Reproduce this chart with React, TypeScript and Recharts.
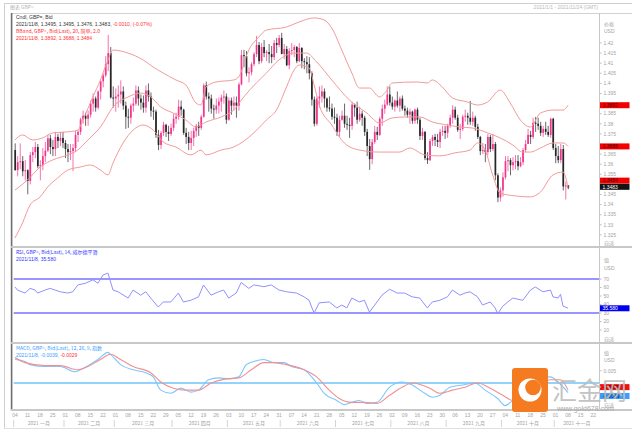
import React from "react";
import { ComposedChart, Bar, Line, XAxis, YAxis, ReferenceLine } from "recharts";

// one slot per weekday, 2021/1/4 .. 2021/11/24
const SLOTS = 233;
const PLOT_LEFT = 13.7;
const AXIS_W = 32.5;
const FONT = "'Liberation Sans', Arial, sans-serif";
const CJK = "'Noto Sans CJK SC', 'Liberation Sans', sans-serif";
const GRAY = "#a3a3a3";
const UP = "#f2358d";
const DOWN = "#262626";
const BAND = "#f29a9a";

// daily candles GBP=, 2021/1/4 .. 2021/11/8, one line per week
const opens = [
  1.3670, 1.3571, 1.3610, 1.3615, 1.3565,
  1.3570, 1.3517, 1.3645, 1.3660, 1.3685,
  1.3590, 1.3595, 1.3640, 1.3667, 1.3728,
  1.3685, 1.3675, 1.3735, 1.3715, 1.3730,
  1.3705, 1.3675, 1.3660, 1.3665, 1.3680,
  1.3745, 1.3760, 1.3822, 1.3840, 1.3825,
  1.3845, 1.3900, 1.3925, 1.3880, 1.3960,
  1.4010, 1.4040, 1.4095, 1.4150, 1.3930,
  1.3925, 1.3935, 1.3945, 1.3960, 1.3890,
  1.3835, 1.3830, 1.3890, 1.3900, 1.3965,
  1.3925, 1.3905, 1.3880, 1.3965, 1.3935,
  1.3865, 1.3860, 1.3745, 1.3695, 1.3755,
  1.3795, 1.3760, 1.3750, 1.3780, 1.3825,
  1.3835, 1.3885, 1.3870, 1.3755, 1.3735,
  1.3705, 1.3730, 1.3765, 1.3790, 1.3780,
  1.3835, 1.3990, 1.3935, 1.3925, 1.3875,
  1.3870, 1.3890, 1.3910, 1.3930, 1.3935,
  1.3820, 1.3915, 1.3890, 1.3905, 1.3890,
  1.3995, 1.4140, 1.4135, 1.4050, 1.4055,
  1.4095, 1.4145, 1.4190, 1.4110, 1.4180,
  1.4150, 1.4155, 1.4145, 1.4130, 1.4200,
  1.4190, 1.4225, 1.4145, 1.4170, 1.4090,
  1.4160, 1.4165, 1.4180, 1.4110, 1.4175,
  1.4110, 1.4105, 1.4095, 1.4050, 1.3920,
  1.3800, 1.3925, 1.3935, 1.3960, 1.3925,
  1.3880, 1.3875, 1.3835, 1.3830, 1.3760,
  1.3820, 1.3840, 1.3800, 1.3795, 1.3790,
  1.3895, 1.3880, 1.3820, 1.3850, 1.3830,
  1.3760, 1.3690, 1.3625, 1.3710, 1.3760,
  1.3745, 1.3825, 1.3875, 1.3895, 1.3945,
  1.3905, 1.3885, 1.3915, 1.3890, 1.3925,
  1.3875, 1.3865, 1.3845, 1.3860, 1.3815,
  1.3870, 1.3820, 1.3740, 1.3760, 1.3630,
  1.3620, 1.3715, 1.3735, 1.3720, 1.3710,
  1.3760, 1.3765, 1.3755, 1.3790, 1.3830,
  1.3870, 1.3830, 1.3770, 1.3775, 1.3835,
  1.3840, 1.3830, 1.3810, 1.3830, 1.3785,
  1.3735, 1.3665, 1.3670, 1.3660, 1.3735,
  1.3675, 1.3700, 1.3545, 1.3435, 1.3470,
  1.3535, 1.3615, 1.3620, 1.3595, 1.3610,
  1.3615, 1.3590, 1.3610, 1.3670, 1.3700,
  1.3745, 1.3735, 1.3805, 1.3800, 1.3790,
  1.3755, 1.3775, 1.3760, 1.3745, 1.3825,
  1.3680, 1.3640, 1.3620, 1.3675, 1.3490,
  1.3495,
];
const highs = [
  1.3703, 1.3640, 1.3703, 1.3640, 1.3620,
  1.3575, 1.3660, 1.3685, 1.3710, 1.3700,
  1.3620, 1.3680, 1.3710, 1.3745, 1.3745,
  1.3720, 1.3760, 1.3750, 1.3760, 1.3760,
  1.3720, 1.3700, 1.3700, 1.3700, 1.3765,
  1.3770, 1.3830, 1.3865, 1.3855, 1.3865,
  1.3915, 1.3950, 1.3935, 1.3965, 1.4015,
  1.4050, 1.4135, 1.4240, 1.4180, 1.3985,
  1.3975, 1.3990, 1.4015, 1.3985, 1.3910,
  1.3875, 1.3900, 1.3930, 1.3990, 1.3985,
  1.3945, 1.3940, 1.3990, 1.4000, 1.3955,
  1.3885, 1.3870, 1.3770, 1.3765, 1.3810,
  1.3800, 1.3790, 1.3800, 1.3850, 1.3855,
  1.3919, 1.3915, 1.3875, 1.3780, 1.3760,
  1.3765, 1.3780, 1.3800, 1.3810, 1.3845,
  1.4000, 1.4009, 1.3955, 1.3945, 1.3895,
  1.3925, 1.3930, 1.3945, 1.3965, 1.3950,
  1.3930, 1.3930, 1.3935, 1.3935, 1.4005,
  1.4165, 1.4166, 1.4160, 1.4080, 1.4105,
  1.4155, 1.4235, 1.4205, 1.4200, 1.4215,
  1.4165, 1.4195, 1.4185, 1.4215, 1.4225,
  1.4240, 1.4250, 1.4195, 1.4185, 1.4175,
  1.4200, 1.4190, 1.4185, 1.4200, 1.4180,
  1.4125, 1.4135, 1.4130, 1.4060, 1.3935,
  1.3935, 1.3985, 1.3990, 1.3975, 1.3930,
  1.3935, 1.3900, 1.3880, 1.3850, 1.3840,
  1.3865, 1.3900, 1.3840, 1.3830, 1.3910,
  1.3900, 1.3910, 1.3885, 1.3865, 1.3840,
  1.3775, 1.3725, 1.3725, 1.3790, 1.3785,
  1.3835, 1.3895, 1.3920, 1.3985, 1.3985,
  1.3935, 1.3920, 1.3960, 1.3935, 1.3940,
  1.3890, 1.3880, 1.3875, 1.3865, 1.3875,
  1.3880, 1.3830, 1.3780, 1.3765, 1.3660,
  1.3725, 1.3745, 1.3750, 1.3750, 1.3775,
  1.3790, 1.3790, 1.3800, 1.3845, 1.3892,
  1.3885, 1.3845, 1.3800, 1.3845, 1.3870,
  1.3855, 1.3913, 1.3860, 1.3840, 1.3800,
  1.3740, 1.3705, 1.3700, 1.3750, 1.3745,
  1.3750, 1.3710, 1.3555, 1.3485, 1.3560,
  1.3640, 1.3640, 1.3630, 1.3635, 1.3645,
  1.3645, 1.3635, 1.3680, 1.3720, 1.3775,
  1.3765, 1.3830, 1.3834, 1.3830, 1.3810,
  1.3790, 1.3810, 1.3790, 1.3830, 1.3830,
  1.3700, 1.3690, 1.3700, 1.3695, 1.3515,
  1.3495,
];
const lows = [
  1.3567, 1.3540, 1.3575, 1.3540, 1.3520,
  1.3451, 1.3500, 1.3610, 1.3630, 1.3580,
  1.3520, 1.3570, 1.3610, 1.3660, 1.3650,
  1.3640, 1.3640, 1.3680, 1.3690, 1.3680,
  1.3630, 1.3610, 1.3620, 1.3566, 1.3660,
  1.3710, 1.3745, 1.3800, 1.3790, 1.3790,
  1.3830, 1.3860, 1.3860, 1.3870, 1.3920,
  1.3980, 1.4030, 1.4060, 1.3925, 1.3880,
  1.3860, 1.3880, 1.3900, 1.3870, 1.3775,
  1.3780, 1.3800, 1.3860, 1.3890, 1.3890,
  1.3870, 1.3855, 1.3855, 1.3910, 1.3835,
  1.3820, 1.3730, 1.3670, 1.3675, 1.3740,
  1.3735, 1.3715, 1.3740, 1.3765, 1.3800,
  1.3820, 1.3840, 1.3745, 1.3700, 1.3670,
  1.3670, 1.3690, 1.3735, 1.3740, 1.3770,
  1.3830, 1.3920, 1.3860, 1.3850, 1.3825,
  1.3850, 1.3850, 1.3860, 1.3900, 1.3800,
  1.3815, 1.3845, 1.3865, 1.3830, 1.3865,
  1.3990, 1.4080, 1.4035, 1.4005, 1.4040,
  1.4085, 1.4130, 1.4095, 1.4100, 1.4130,
  1.4110, 1.4100, 1.4100, 1.4115, 1.4150,
  1.4180, 1.4150, 1.4120, 1.4085, 1.4070,
  1.4140, 1.4130, 1.4100, 1.4105, 1.4075,
  1.4070, 1.4050, 1.4020, 1.3890, 1.3787,
  1.3790, 1.3880, 1.3905, 1.3880, 1.3860,
  1.3860, 1.3820, 1.3800, 1.3740, 1.3735,
  1.3815, 1.3780, 1.3770, 1.3730, 1.3770,
  1.3835, 1.3800, 1.3810, 1.3790, 1.3740,
  1.3640, 1.3572, 1.3600, 1.3700, 1.3720,
  1.3740, 1.3790, 1.3850, 1.3890, 1.3890,
  1.3870, 1.3860, 1.3880, 1.3860, 1.3865,
  1.3840, 1.3830, 1.3800, 1.3800, 1.3800,
  1.3800, 1.3720, 1.3720, 1.3620, 1.3601,
  1.3615, 1.3690, 1.3690, 1.3685, 1.3680,
  1.3740, 1.3725, 1.3730, 1.3780, 1.3800,
  1.3820, 1.3760, 1.3725, 1.3765, 1.3810,
  1.3795, 1.3795, 1.3790, 1.3765, 1.3725,
  1.3645, 1.3650, 1.3610, 1.3645, 1.3660,
  1.3665, 1.3520, 1.3412, 1.3415, 1.3440,
  1.3525, 1.3565, 1.3545, 1.3570, 1.3575,
  1.3570, 1.3585, 1.3595, 1.3660, 1.3700,
  1.3700, 1.3725, 1.3760, 1.3770, 1.3740,
  1.3735, 1.3745, 1.3735, 1.3730, 1.3670,
  1.3605, 1.3605, 1.3605, 1.3470, 1.3425,
  1.3476,
];
const closes = [
  1.3571, 1.3610, 1.3615, 1.3565, 1.3570,
  1.3517, 1.3645, 1.3660, 1.3685, 1.3590,
  1.3595, 1.3640, 1.3667, 1.3728, 1.3685,
  1.3675, 1.3735, 1.3715, 1.3730, 1.3705,
  1.3675, 1.3660, 1.3665, 1.3680, 1.3745,
  1.3760, 1.3822, 1.3840, 1.3825, 1.3845,
  1.3900, 1.3925, 1.3880, 1.3960, 1.4010,
  1.4040, 1.4095, 1.4150, 1.3930, 1.3925,
  1.3935, 1.3945, 1.3960, 1.3890, 1.3835,
  1.3830, 1.3890, 1.3900, 1.3965, 1.3925,
  1.3905, 1.3880, 1.3965, 1.3935, 1.3865,
  1.3860, 1.3745, 1.3695, 1.3755, 1.3795,
  1.3760, 1.3750, 1.3780, 1.3825, 1.3835,
  1.3885, 1.3870, 1.3755, 1.3735, 1.3705,
  1.3730, 1.3765, 1.3790, 1.3780, 1.3835,
  1.3990, 1.3935, 1.3925, 1.3875, 1.3870,
  1.3890, 1.3910, 1.3930, 1.3935, 1.3820,
  1.3915, 1.3890, 1.3905, 1.3890, 1.3995,
  1.4140, 1.4135, 1.4050, 1.4055, 1.4095,
  1.4145, 1.4190, 1.4110, 1.4180, 1.4150,
  1.4155, 1.4145, 1.4130, 1.4200, 1.4190,
  1.4225, 1.4145, 1.4170, 1.4090, 1.4160,
  1.4165, 1.4180, 1.4110, 1.4175, 1.4110,
  1.4105, 1.4095, 1.4050, 1.3920, 1.3800,
  1.3925, 1.3935, 1.3960, 1.3925, 1.3880,
  1.3875, 1.3835, 1.3830, 1.3760, 1.3820,
  1.3840, 1.3800, 1.3795, 1.3790, 1.3895,
  1.3880, 1.3820, 1.3850, 1.3830, 1.3760,
  1.3690, 1.3625, 1.3710, 1.3760, 1.3745,
  1.3825, 1.3875, 1.3895, 1.3945, 1.3905,
  1.3885, 1.3915, 1.3890, 1.3925, 1.3875,
  1.3865, 1.3845, 1.3860, 1.3815, 1.3870,
  1.3820, 1.3740, 1.3760, 1.3630, 1.3620,
  1.3715, 1.3735, 1.3720, 1.3710, 1.3760,
  1.3765, 1.3755, 1.3790, 1.3830, 1.3870,
  1.3830, 1.3770, 1.3775, 1.3835, 1.3840,
  1.3830, 1.3810, 1.3830, 1.3785, 1.3735,
  1.3665, 1.3670, 1.3660, 1.3735, 1.3675,
  1.3700, 1.3545, 1.3435, 1.3470, 1.3535,
  1.3615, 1.3620, 1.3595, 1.3610, 1.3615,
  1.3590, 1.3610, 1.3670, 1.3700, 1.3745,
  1.3735, 1.3805, 1.3800, 1.3790, 1.3755,
  1.3775, 1.3760, 1.3745, 1.3825, 1.3680,
  1.3640, 1.3620, 1.3675, 1.3490, 1.3495,
  1.3483,
];

// Bollinger (20, 2.0) at these day slots
const upperIdx = [0, 3, 7, 11, 15, 21, 25, 27, 31, 34, 37, 39, 45, 51, 55, 59, 64, 68, 72, 74, 76, 80, 87, 89, 93, 97, 100, 108, 113, 119, 123, 126, 130, 134, 137, 141, 145, 148, 150, 160, 164, 166, 170, 174, 180, 184, 188, 193, 197, 201, 205, 209, 214, 218, 220];
const upperVal = [1.3720, 1.3745, 1.3720, 1.3730, 1.3755, 1.3760, 1.3769, 1.3819, 1.3933, 1.4017, 1.4116, 1.4165, 1.4150, 1.4116, 1.4081, 1.4051, 1.4017, 1.3992, 1.3903, 1.3893, 1.3982, 1.4007, 1.4017, 1.4032, 1.4165, 1.4230, 1.4264, 1.4279, 1.4304, 1.4324, 1.4314, 1.4274, 1.4165, 1.4051, 1.3977, 1.3977, 1.3933, 1.3967, 1.4002, 1.4007, 1.4002, 1.4017, 1.3982, 1.3928, 1.3908, 1.3893, 1.3908, 1.3967, 1.3903, 1.3819, 1.3784, 1.3853, 1.3868, 1.3868, 1.3892];
const middleIdx = [0, 5, 10, 15, 21, 25, 29, 34, 39, 45, 50, 54, 58, 63, 68, 72, 76, 82, 87, 91, 96, 100, 105, 111, 116, 120, 126, 133, 140, 145, 150, 156, 161, 166, 172, 177, 182, 188, 193, 198, 202, 205, 209, 214, 218, 220];
const middleVal = [1.3472, 1.3522, 1.3586, 1.3621, 1.3646, 1.3670, 1.3720, 1.3784, 1.3883, 1.3933, 1.3952, 1.3933, 1.3883, 1.3853, 1.3819, 1.3784, 1.3809, 1.3834, 1.3868, 1.3933, 1.4002, 1.4051, 1.4116, 1.4150, 1.4150, 1.4106, 1.4017, 1.3918, 1.3853, 1.3804, 1.3829, 1.3834, 1.3834, 1.3809, 1.3794, 1.3784, 1.3779, 1.3755, 1.3730, 1.3695, 1.3660, 1.3660, 1.3680, 1.3705, 1.3705, 1.3688];
const lowerIdx = [0, 3, 6, 10, 13, 17, 21, 26, 30, 34, 37, 39, 43, 47, 51, 55, 59, 64, 70, 74, 76, 82, 87, 95, 100, 104, 108, 111, 113, 117, 119, 121, 126, 131, 137, 145, 153, 157, 163, 169, 175, 181, 184, 187, 190, 193, 199, 205, 209, 214, 218, 220];
const lowerVal = [1.3235, 1.3309, 1.3398, 1.3438, 1.3487, 1.3532, 1.3571, 1.3586, 1.3596, 1.3571, 1.3547, 1.3606, 1.3705, 1.3769, 1.3794, 1.3769, 1.3710, 1.3685, 1.3646, 1.3670, 1.3646, 1.3670, 1.3685, 1.3755, 1.3819, 1.3868, 1.3982, 1.4066, 1.4091, 1.4076, 1.3992, 1.3893, 1.3794, 1.3705, 1.3670, 1.3660, 1.3660, 1.3680, 1.3646, 1.3641, 1.3656, 1.3670, 1.3705, 1.3670, 1.3547, 1.3457, 1.3443, 1.3438, 1.3462, 1.3547, 1.3561, 1.3484];

// RSI (14)
const rsiIdx = [0, 1, 4, 6, 8, 9, 12, 14, 16, 18, 21, 23, 25, 28, 31, 33, 35, 37, 39, 41, 45, 47, 50, 52, 54, 57, 59, 62, 65, 67, 70, 73, 75, 78, 81, 83, 85, 88, 90, 93, 95, 99, 102, 105, 108, 112, 115, 117, 118, 119, 121, 125, 128, 130, 132, 134, 137, 139, 141, 144, 146, 149, 152, 155, 158, 161, 164, 166, 169, 172, 174, 177, 179, 181, 184, 186, 189, 191, 192, 194, 196, 198, 202, 205, 207, 210, 213, 214, 216, 217, 218, 219, 220];
const rsiVal = [60.6, 57, 53.5, 59, 57, 53.5, 57, 59, 57, 55, 53.5, 55, 63, 65, 69, 65, 74.7, 77, 57, 55, 47.6, 57, 51, 55, 47.6, 37, 43, 43, 53.5, 43, 45, 49, 63, 51, 55, 57, 47.6, 53.5, 66, 59, 63, 61, 63, 57, 55, 53.5, 49, 45, 37, 30, 42, 43, 36, 39.4, 36, 47.6, 43, 45, 31, 43, 51, 58, 53.5, 53.5, 49, 47.6, 36, 43, 45, 49, 57, 51, 53.5, 55, 49, 39.4, 43, 36, 29, 38, 43, 47.6, 45, 57, 60.6, 55, 57, 49, 47.6, 52, 38, 37, 35.58];

// MACD (12, 26, 9)
const macdIdx = [0, 4, 6, 12, 18, 24, 26, 33, 37, 38, 42, 47, 52, 55, 58, 62, 66, 70, 73, 77, 81, 85, 89, 92, 95, 99, 103, 107, 110, 115, 120, 123, 128, 131, 134, 137, 140, 144, 149, 154, 158, 163, 166, 169, 173, 178, 183, 187, 192, 195, 198, 203, 208, 213, 216, 220];
const macdVal = [0.0096, 0.0088, 0.0075, 0.0067, 0.0067, 0.0046, 0.0054, 0.0096, 0.0125, 0.0117, 0.0075, 0.0054, 0.0042, 0.0025, -0.0029, -0.0042, -0.0021, -0.0037, -0.0029, 0.0013, 0.0021, 0.0017, 0.0025, 0.0075, 0.0088, 0.0096, 0.0083, 0.0083, 0.0067, 0.0054, 0, -0.0042, -0.0071, -0.0088, -0.0079, -0.0071, -0.0083, -0.0079, -0.0017, 0.0004, -0.0008, -0.0042, -0.0058, -0.005, -0.0017, -0.0008, 0, -0.0029, -0.0063, -0.0092, -0.0071, -0.005, 0.0021, 0.0025, 0.0004, -0.0039];
const signalIdx = [0, 4, 12, 18, 25, 29, 34, 38, 42, 47, 54, 58, 63, 68, 73, 78, 84, 89, 94, 99, 103, 108, 115, 120, 125, 129, 134, 139, 144, 149, 154, 158, 165, 169, 174, 179, 184, 189, 194, 198, 203, 208, 213, 217, 220];
const signalVal = [0.0104, 0.0083, 0.0071, 0.0071, 0.0054, 0.0067, 0.0096, 0.0117, 0.0096, 0.0067, 0.0042, 0.0004, -0.0021, -0.0029, -0.0029, 0, 0.0017, 0.0021, 0.0054, 0.0083, 0.0083, 0.0075, 0.0054, 0.0025, -0.0029, -0.0063, -0.0079, -0.0079, -0.0083, -0.005, -0.0017, 0, -0.0021, -0.0042, -0.0029, -0.0017, 0, -0.0021, -0.005, -0.0071, -0.0063, -0.0017, 0.0013, 0.0013, -0.0029];

// axis labels
const priceTicks = [1.325, 1.33, 1.335, 1.34, 1.345, 1.355, 1.36, 1.365, 1.375, 1.38, 1.385, 1.395, 1.4, 1.405, 1.41, 1.415, 1.42];
const rsiTicks = [10, 20, 30, 40, 50, 60, 70];
const dayLabels = [
  "04", "11", "18", "25", "01", "08", "15", "22", "01", "08", "15", "22", "29",
  "05", "12", "19", "26", "03", "10", "17", "24", "31", "07", "14", "21", "28",
  "05", "12", "19", "26", "02", "09", "16", "23", "30", "06", "13", "20", "27",
  "04", "11", "18", "25", "01", "08", "15", "22",
];
const mondayIdx = dayLabels.map((_, k) => k * 5);
const monthLabels = ["2021 一月", "2021 二月", "2021 三月", "2021 四月", "2021 五月", "2021 六月", "2021 七月", "2021 八月", "2021 九月", "2021 十月", "2021 十一月"];
const monthMid = [9.5, 29.5, 51, 73.5, 95, 116.5, 138.5, 160.5, 182.5, 204, 223.5];
const monthEdge = [-0.5, 19.5, 39.5, 62.5, 84.5, 105.5, 127.5, 149.5, 171.5, 193.5, 214.5];

const rows: any[] = Array.from({ length: SLOTS }, (_, i) => {
  const r: any = { i };
  if (i < closes.length) {
    r.o = opens[i];
    r.h = highs[i];
    r.l = lows[i];
    r.c = closes[i];
    r.range = [lows[i], highs[i]];
  }
  return r;
});
upperIdx.forEach((k, j) => (rows[k].up = upperVal[j]));
middleIdx.forEach((k, j) => (rows[k].mid = middleVal[j]));
lowerIdx.forEach((k, j) => (rows[k].lo = lowerVal[j]));
rsiIdx.forEach((k, j) => (rows[k].rsi = rsiVal[j]));
macdIdx.forEach((k, j) => (rows[k].macd = macdVal[j]));
signalIdx.forEach((k, j) => (rows[k].sig = signalVal[j]));

const fmtPrice = (v: number) => String(Number(v.toFixed(3)));
const tickStyle = { fontSize: 5, fill: GRAY, fontFamily: FONT };

function Candle(props: any) {
  const { x, y, width, height, payload } = props;
  if (!payload || payload.c == null || !isFinite(y) || !isFinite(height)) return null;
  const { o, h, l, c } = payload;
  const top = Math.min(y, y + height);
  const bot = Math.max(y, y + height);
  const span = h - l || 1e-9;
  const py = (v: number) => top + ((h - v) / span) * (bot - top);
  const col = c >= o ? UP : DOWN;
  const cx = x + width / 2;
  const bt = py(Math.max(o, c));
  const bb = py(Math.min(o, c));
  return (
    <g>
      <line x1={cx} x2={cx} y1={top} y2={bot} stroke={col} strokeWidth={0.7} />
      <rect x={cx - 0.85} y={bt} width={1.7} height={Math.max(0.7, bb - bt)} fill={col} />
    </g>
  );
}

function Tag(props: any) {
  const { viewBox, text, bg, fg, dy = 0 } = props;
  if (!viewBox) return null;
  const x = viewBox.x + viewBox.width;
  const y = viewBox.y + dy;
  return (
    <g>
      <rect x={x} y={y - 3} width={30} height={6} fill={bg} />
      <text x={x + 3} y={y + 1.8} fontSize={5} fill={fg} fontFamily={FONT}>{text}</text>
    </g>
  );
}

function MonthTick(props: any) {
  const { x, y, payload } = props;
  const v = payload.value;
  if (monthEdge.includes(v)) {
    return <line x1={x} x2={x} y1={y + 1} y2={y + 8} stroke="#c9c9c9" strokeWidth={0.8} />;
  }
  const m = monthMid.indexOf(v);
  return (
    <text x={x} y={y + 6} textAnchor="middle" fontSize={5} fill={GRAY} fontFamily={CJK}>
      {monthLabels[m]}
    </text>
  );
}

const T = ({ x, y, c = GRAY, s = 5, a = "start", f = FONT, children }: any) => (
  <text x={x} y={y} fill={c} fontSize={s} textAnchor={a} fontFamily={f}>{children}</text>
);

const rightAxis = {
  orientation: "right" as const,
  width: AXIS_W,
  axisLine: false,
  tickLine: { stroke: "#bdbdbd" },
  tickSize: 2,
  tickMargin: 2,
  tick: tickStyle,
  interval: 0 as const,
  allowDataOverflow: true,
};

export default function App() {
  const margin = { top: 0, right: 0, bottom: 0, left: PLOT_LEFT };
  return (
    <div style={{ position: "absolute", left: 0, top: 0, width: 632, height: 435, background: "#fff", overflow: "hidden" }}>
      <div style={{ position: "absolute", left: 0, top: 13 }}>
        <ComposedChart width={632} height={233} data={rows} margin={margin} barCategoryGap={0} barGap={0}>
          <XAxis dataKey="i" hide />
          <YAxis {...rightAxis} domain={[1.3195, 1.43485]} ticks={priceTicks} tickFormatter={fmtPrice} />
          <Line dataKey="up" type="monotone" stroke={BAND} strokeWidth={1} dot={false} activeDot={false} connectNulls isAnimationActive={false} />
          <Line dataKey="mid" type="monotone" stroke={BAND} strokeWidth={1} dot={false} activeDot={false} connectNulls isAnimationActive={false} />
          <Line dataKey="lo" type="monotone" stroke={BAND} strokeWidth={1} dot={false} activeDot={false} connectNulls isAnimationActive={false} />
          <Bar dataKey="range" shape={(p: any) => <Candle {...p} />} isAnimationActive={false} />
          <ReferenceLine y={1.3892} stroke="none" label={<Tag text="1.3892" bg="#f20000" fg="#4a0000" />} />
          <ReferenceLine y={1.3688} stroke="none" label={<Tag text="1.3688" bg="#f20000" fg="#4a0000" />} />
          <ReferenceLine y={1.3484} stroke="none" label={<Tag text="1.3484" bg="#f20000" fg="#4a0000" dy={-7} />} />
          <ReferenceLine y={1.3483} stroke="none" label={<Tag text="1.3483" bg="#141414" fg="#ffffff" dy={-1} />} />
        </ComposedChart>
      </div>

      <div style={{ position: "absolute", left: 0, top: 248 }}>
        <ComposedChart width={632} height={94} data={rows} margin={margin}>
          <XAxis dataKey="i" type="number" domain={[-0.5, SLOTS - 0.5]} hide allowDataOverflow />
          <YAxis {...rightAxis} domain={[-4.1, 106.5]} ticks={rsiTicks} />
          <ReferenceLine y={70} stroke="#7575ff" strokeWidth={1.6} />
          <ReferenceLine y={30} stroke="#7575ff" strokeWidth={1.6} />
          <Line dataKey="rsi" type="linear" stroke="#9090ff" strokeWidth={1} dot={false} activeDot={false} connectNulls isAnimationActive={false} />
          <ReferenceLine y={35.58} stroke="none" label={<Tag text="35.580" bg="#0000f0" fg="#ffffff" />} />
        </ComposedChart>
      </div>

      <div style={{ position: "absolute", left: 0, top: 344 }}>
        <ComposedChart width={632} height={86} data={rows} margin={margin}>
          <XAxis
            xAxisId="d"
            dataKey="i"
            type="number"
            domain={[-0.5, SLOTS - 0.5]}
            allowDataOverflow
            ticks={mondayIdx}
            interval={0}
            tickFormatter={(v: number) => dayLabels[Math.round(v / 5)]}
            height={9}
            tickSize={1}
            tickMargin={2}
            tickLine={false}
            axisLine={false}
            tick={tickStyle}
          />
          <XAxis
            xAxisId="m"
            dataKey="i"
            type="number"
            domain={[-0.5, SLOTS - 0.5]}
            allowDataOverflow
            ticks={[...monthMid, ...monthEdge]}
            interval={0}
            height={11}
            tickSize={0}
            tickMargin={0}
            tickLine={false}
            axisLine={false}
            tick={(p: any) => <MonthTick {...p} />}
          />
          <YAxis {...rightAxis} domain={[-0.011, 0.0159]} ticks={[0.005]} />
          <ReferenceLine xAxisId="d" y={0} stroke="#93d3fb" strokeWidth={2} />
          <Line xAxisId="d" dataKey="macd" type="monotone" stroke="#7cc6ff" strokeWidth={1.1} dot={false} activeDot={false} connectNulls isAnimationActive={false} />
          <Line xAxisId="d" dataKey="sig" type="monotone" stroke="#f29090" strokeWidth={1.1} dot={false} activeDot={false} connectNulls isAnimationActive={false} />
          <ReferenceLine xAxisId="d" y={-0.0029} stroke="none" label={<Tag text="-0.0029" bg="#f01010" fg="#4a0000" dy={-3} />} />
          <ReferenceLine xAxisId="d" y={-0.0039} stroke="none" label={<Tag text="-0.0039" bg="#3a9cff" fg="#002050" dy={3.4} />} />
        </ComposedChart>
      </div>

      <svg width={632} height={435} style={{ position: "absolute", left: 0, top: 0, pointerEvents: "none" }}>
        {/* frame */}
        <line x1={4.5} y1={3} x2={4.5} y2={428} stroke="#cfcfcf" />
        <line x1={4} y1={3.5} x2={632} y2={3.5} stroke="#cfcfcf" />
        <line x1={4} y1={428.5} x2={632} y2={428.5} stroke="#e0e0e0" />
        <line x1={11} y1={13.5} x2={632} y2={13.5} stroke="#d2d2d2" />
        <rect x={10.8} y={13} width={1.6} height={398} fill="#6e6e6e" />
        <line x1={599.5} y1={13} x2={599.5} y2={410} stroke="#c8c8c8" />
        <rect x={11} y={246} width={621} height={2} fill="#c8c8c8" />
        <rect x={11} y={342} width={621} height={2} fill="#c8c8c8" />
        <rect x={11} y={409} width={621} height={2} fill="#c8c8c8" />

        <T x={10} y={9} c="#b5b5b5" f={CJK}>图表 GBP=</T>
        <T x={598} y={9} c="#b8b8b8" a="end">2021/1/1 - 2021/11/24 (GMT)</T>

        <T x={16} y={19} c="#333">Cndl, GBP=, Bid</T>
        <text x={16} y={26} fontSize={5} fontFamily={FONT} fill="#333">
          2021/11/8, 1.3495, 1.3495, 1.3476, 1.3483, <tspan fill="#ff3030">-0.0010, (-0.07%)</tspan>
        </text>
        <T x={16} y={33} c="#ff3030" f={CJK}>BBand, GBP=, Bid(Last), 20, 简单, 2.0</T>
        <T x={16} y={40} c="#ff3030">2021/11/8, 1.3892, 1.3688, 1.3484</T>

        <T x={604} y={26} f={CJK}>价格</T>
        <T x={604} y={33}>USD</T>
        <T x={604} y={245} f={CJK}>自适</T>

        <T x={16} y={254} c="#3535ff" f={CJK}>RSI, GBP=, Bid(Last), 14, 威尔德平滑</T>
        <T x={16} y={261} c="#3535ff">2021/11/8, 35.580</T>
        <T x={604} y={262} f={CJK}>值</T>
        <T x={604} y={270}>USD</T>
        <T x={604} y={341} f={CJK}>自适</T>

        <T x={16} y={349.5} c="#3aa0ff" f={CJK}>MACD, GBP=, Bid(Last), 12, 26, 9, 指数</T>
        <text x={16} y={357} fontSize={5} fontFamily={FONT} fill="#3aa0ff">
          2021/11/8, -0.0039, <tspan fill="#ff3030">-0.0029</tspan>
        </text>
        <T x={604} y={355} f={CJK}>值</T>
        <T x={604} y={362}>USD</T>
        <T x={604} y={407} f={CJK}>自适</T>

        {/* watermark */}
        <rect x={512} y={368} width={36} height={44} rx={3} fill="#f47b20" />
        <circle cx={530} cy={390} r={11.5} fill="#ffffff" />
        <circle cx={533} cy={387.5} r={7.8} fill="#f47b20" />
        <text x={552} y={400} fontSize={25} fill="#bdbdbd" fontFamily={CJK} opacity={0.9}>汇金网</text>
        <text x={557} y={411} fontSize={7} fill="#a9a9a9" fontFamily={FONT}>www.gold678.com</text>
      </svg>
    </div>
  );
}
